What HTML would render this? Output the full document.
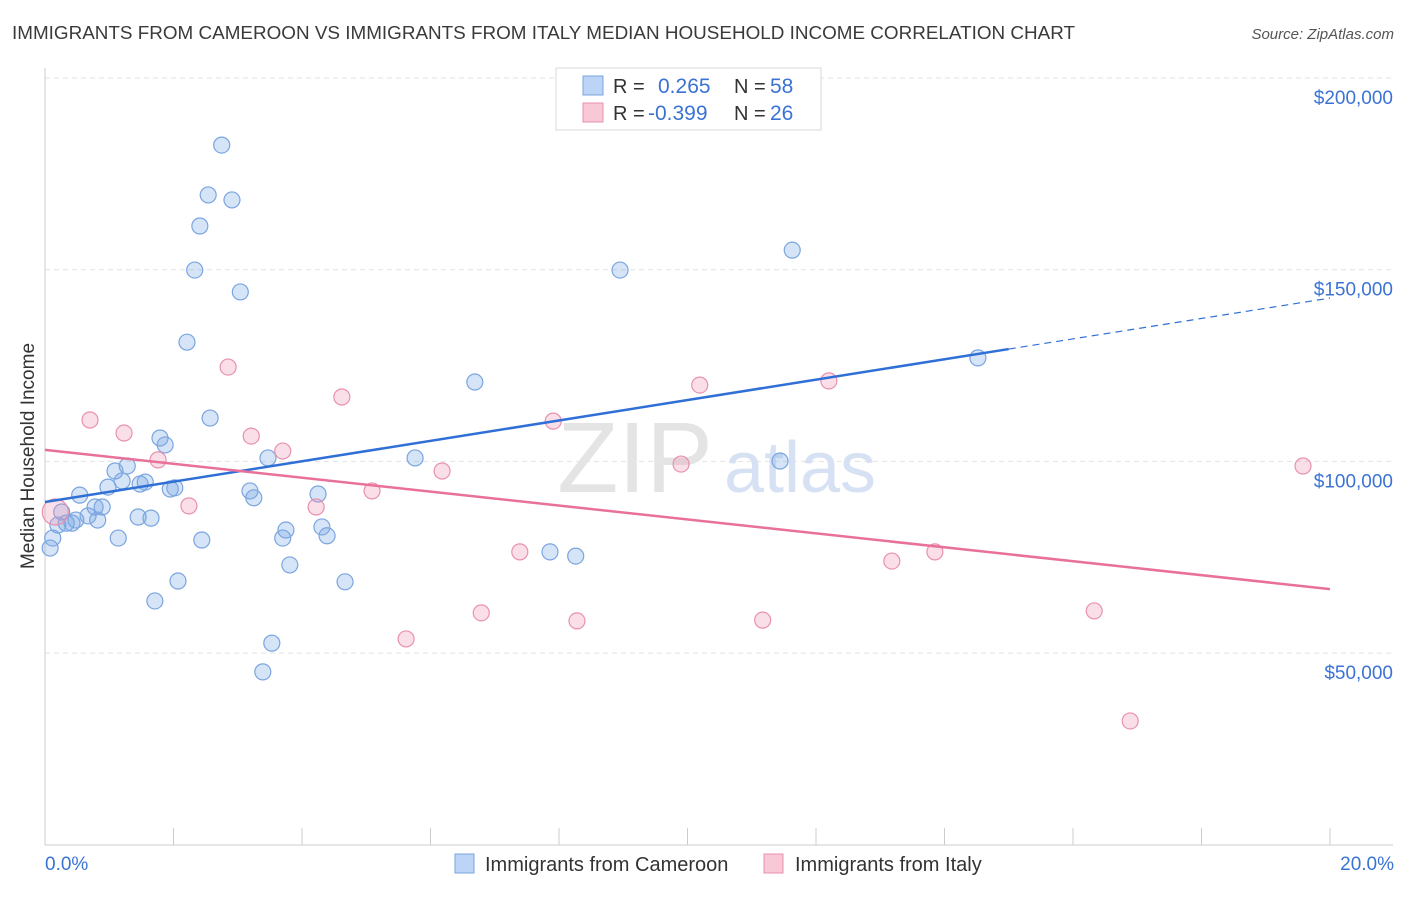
<!DOCTYPE html>
<html><head><meta charset="utf-8"><style>
body{margin:0;background:#fff;font-family:"Liberation Sans",sans-serif;}
svg text{font-family:"Liberation Sans",sans-serif;}
</style></head><body>
<svg id="chart" width="1406" height="892" viewBox="0 0 1406 892" xmlns="http://www.w3.org/2000/svg">
<text x="12" y="39" font-size="18.5" fill="#3a3a3a" textLength="1063" lengthAdjust="spacingAndGlyphs">IMMIGRANTS FROM CAMEROON VS IMMIGRANTS FROM ITALY MEDIAN HOUSEHOLD INCOME CORRELATION CHART</text>
<text x="1394" y="39" font-size="15" fill="#555" text-anchor="end" font-style="italic">Source: ZipAtlas.com</text>
<g id="grid"></g>
<text x="635" y="492" font-size="100" fill="#e4e4e4" font-family="Liberation Serif" text-anchor="middle">ZIP</text>
<text x="800" y="492" font-size="72" fill="#d6e2f3" text-anchor="middle">atlas</text>
<g id="pts"></g>
<g id="lines"></g>
<text transform="translate(34,456) rotate(-90)" font-size="19" fill="#333" text-anchor="middle">Median Household Income</text>
<text x="45" y="870" font-size="19" fill="#3b73d4">0.0%</text>
<text x="1394" y="870" font-size="19" fill="#3b73d4" text-anchor="end">20.0%</text>
<g>
<rect x="556" y="68" width="265" height="62" fill="#fff" stroke="#d8d8d8"/>
<rect x="583" y="76" width="20" height="19" fill="#bcd4f5" stroke="#7aa5e0"/>
<rect x="583" y="103" width="20" height="19" fill="#f9c8d6" stroke="#e890b0"/>
<text x="613" y="93" font-size="20" fill="#333">R = </text><text x="658" y="93" font-size="21" fill="#3b73d4">0.265</text>
<text x="734" y="93" font-size="20" fill="#333">N = </text><text x="770" y="93" font-size="21" fill="#3b73d4">58</text>
<text x="613" y="120" font-size="20" fill="#333">R = </text><text x="648" y="120" font-size="21" fill="#3b73d4">-0.399</text>
<text x="734" y="120" font-size="20" fill="#333">N = </text><text x="770" y="120" font-size="21" fill="#3b73d4">26</text>
</g>
<g>
<rect x="455" y="854" width="19" height="19" fill="#bcd4f5" stroke="#7aa5e0"/>
<text x="485" y="871" font-size="20" fill="#333">Immigrants from Cameroon</text>
<rect x="764" y="854" width="19" height="19" fill="#f9c8d6" stroke="#e890b0"/>
<text x="795" y="871" font-size="20" fill="#333">Immigrants from Italy</text>
</g>
</svg>
<script>
const yTicks=[50000,100000,150000,200000];
const yTickLabels=["$50,000","$100,000","$150,000","$200,000"];
const xTicks=[0,2,4,6,8,10,12,14,16,18,20];
const blueX=[0.08,0.12,0.20,0.26,0.33,0.42,0.48,0.54,0.67,0.78,0.82,0.89,0.98,1.09,1.14,1.20,1.28,1.45,1.48,1.56,1.65,1.71,1.79,1.87,1.95,2.02,2.07,2.21,2.33,2.41,2.44,2.54,2.57,2.75,2.91,3.04,3.19,3.25,3.39,3.47,3.53,3.70,3.75,3.81,4.25,4.31,4.39,4.67,5.76,6.69,7.86,8.26,8.95,11.44,11.63,14.52];
const blueY=[77400,80000,83400,86800,83900,83900,84700,91200,85800,88100,84700,88100,93300,97500,80000,94900,98800,85500,94100,94600,85200,63600,106100,104300,92800,93100,68800,131100,149900,161400,79500,169500,111300,182500,168200,144200,92300,90500,45100,100900,52600,80000,82100,73000,91500,82900,80600,68600,100900,120700,76400,75300,149900,100100,155100,127000];
const pinkX=[0.16,0.70,1.23,1.76,2.24,2.85,3.21,3.70,4.22,4.62,5.09,5.62,6.18,6.79,7.39,7.91,8.28,9.90,10.19,11.17,12.20,13.18,13.85,16.33,16.89,19.58];
const pinkY=[86800,110800,107400,100400,88400,124600,106600,102700,88100,116800,92300,53700,97500,60500,76400,110500,58400,99300,119900,58600,121000,74000,76400,61000,32300,98800];
const blueFit=[89400,142600];
const pinkFit=[103000,66700];
const blueSolidEnd=15.0;
const NS="http://www.w3.org/2000/svg";
const xs=v=>45+v/20*1285;
const ys=v=>78+(200000-v)/50000*191.7;
function mk(parent,tag,attrs){const e=document.createElementNS(NS,tag);for(const k in attrs)e.setAttribute(k,attrs[k]);document.getElementById(parent).appendChild(e);return e;}
yTicks.forEach((t,i)=>{
 const l=mk('grid','line',{x1:45,x2:1393,y1:ys(t),y2:ys(t),stroke:'#e2e2e2','stroke-dasharray':'5,4'});
 
 
 const tx=mk('grid','text',{x:1393,y:ys(t)+26,'font-size':19,fill:'#3b73d4','text-anchor':'end'});
 tx.textContent=yTickLabels[i];
 
 
});
const a1=mk('grid','line',{x1:45,x2:45,y1:68,y2:845,stroke:'#ccc'});


const a2=mk('grid','line',{x1:45,x2:1393,y1:845,y2:845,stroke:'#ccc'});


xTicks.forEach(t=>{
 const l=mk('grid','line',{x1:xs(t),x2:xs(t),y1:828,y2:845,stroke:'#ccc'});
 
 
});
function pts(X,Y,fill,stroke,name){X.forEach((x,i)=>{
 const c=mk('pts','circle',{cx:xs(x),cy:ys(Y[i]),r:(name==='italy-point'&&i===0)?13:8,fill:fill,stroke:stroke,'stroke-width':1.2});
 
 
});}
pts(blueX,blueY,'rgba(120,165,230,0.3)','#7aa5e0','cameroon-point');
pts(pinkX,pinkY,'rgba(240,150,180,0.3)','#e890b0','italy-point');
const bAt=x=>blueFit[0]+(blueFit[1]-blueFit[0])*x/20;
const l1=mk('lines','line',{x1:xs(0),y1:ys(bAt(0)),x2:xs(blueSolidEnd),y2:ys(bAt(blueSolidEnd)),stroke:'#2f6fd6','stroke-width':2.5});


const l2=mk('lines','line',{x1:xs(blueSolidEnd),y1:ys(bAt(blueSolidEnd)),x2:xs(20),y2:ys(bAt(20)),stroke:'#2f6fd6','stroke-width':1.2,'stroke-dasharray':'7,5'});


const l3=mk('lines','line',{x1:xs(0),y1:ys(pinkFit[0]),x2:xs(20),y2:ys(pinkFit[1]),stroke:'#e8709a','stroke-width':2.5});


</script>
</body></html>
